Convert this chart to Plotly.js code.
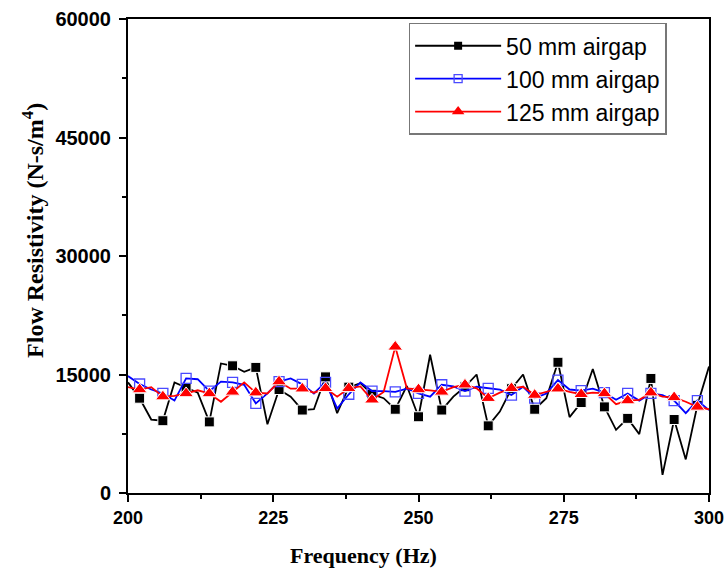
<!DOCTYPE html>
<html>
<head>
<meta charset="utf-8">
<script src="https://cdn.plot.ly/plotly-3.0.1.min.js"></script>
<style>html,body{margin:0;padding:0;background:#fff;}#chart{width:727px;height:576px;}</style>
</head>
<body>
<div id="chart"></div>
<script>
const freq = [200,202,204,206,208,210,212,214,216,218,220,222,224,226,228,230,232,234,236,238,240,242,244,246,248,250,252,254,256,258,260,262,264,266,268,270,272,274,276,278,280,282,284,286,288,290,292,294,296,298,300];
const gap50 = [14000,12000,9300,9150,14000,13300,12700,9000,16400,16100,15350,15900,8700,13100,12200,10500,10600,14700,10100,13400,13900,12500,12000,10600,13550,9650,17500,10500,12200,13450,15000,8500,10300,13200,15000,10600,12000,16550,9600,11450,15700,10900,8000,9450,7450,14500,2300,9300,4250,11100,16000];
const gap100 = [14800,13800,13100,12600,11700,14500,14400,12900,14100,14000,13700,11350,12600,14100,14500,13750,12600,14000,10700,12500,14000,12900,12900,12800,13200,12600,12200,13700,13500,12900,13450,13250,13100,12400,13450,12000,12600,14300,13100,12950,13200,12700,11800,12600,11700,12600,12400,11700,10100,11700,10500];
const gap125 = [13400,13100,13400,12200,12300,12600,13000,12600,11550,12800,14000,12700,12600,14100,13200,13200,12700,13250,12200,13250,13500,11800,12800,18500,13250,13100,13000,12800,13400,13700,13250,12000,12700,13250,13450,12400,12800,13200,12800,12500,12700,12600,11250,11700,11800,12700,12200,12100,11550,10900,10600];
const names = ['50 mm airgap','100 mm airgap','125 mm airgap'];
const xTicks = [200,225,250,275,300];
const yTicks = [0,15000,30000,45000,60000];
const xTitle = 'Frequency (Hz)';
const yTitle = 'Flow Resistivity (N-s/m<sup>4</sup>)';

function sizes(s){ return freq.map(f => ((f-202)%4===0) ? s : 0); }

const styles = [
  {line:{color:'#000000', width:1.8}, marker:{symbol:'square', color:'#000000', size:10}},
  {line:{color:'#0000ff', width:1.8}, marker:{symbol:'square-open', color:'#4a4aff', size:10, line:{width:1.3, color:'#4a4aff'}}},
  {line:{color:'#ff0000', width:1.8}, marker:{symbol:'triangle-up', color:'#ff0000', size:13}}
];
const series = [gap50, gap100, gap125];

const traces = [];
series.forEach((ys, i) => {
  const st = styles[i];
  traces.push({x:freq, y:ys, mode:'lines+markers', showlegend:false, hoverinfo:'skip',
    line:st.line,
    marker:Object.assign({}, st.marker, {size:sizes(st.marker.size), opacity:1})});
});
series.forEach((ys, i) => {
  const st = styles[i];
  traces.push({x:[null], y:[null], name:names[i], mode:'lines+markers', showlegend:true,
    line:st.line, marker:Object.assign({}, st.marker, {size:st.marker.size-2, opacity:1})});
});

const axisCommon = {showline:true, mirror:true, linecolor:'#000', linewidth:2, ticks:'outside', ticklen:7, tickwidth:2, tickcolor:'#000', showgrid:false, zeroline:false};

const layout = {
  width:727, height:576,
  margin:{l:128, r:18, t:19, b:83},
  paper_bgcolor:'#fff', plot_bgcolor:'#fff',
  showlegend:true,
  legend:{x:0.483, y:0.992, xanchor:'left', yanchor:'top', bordercolor:'#777', borderwidth:1.5, bgcolor:'#fff',
          font:{family:'Liberation Sans, Arial, sans-serif', size:23, color:'#000'}, itemwidth:86, tracegroupgap:0},
  xaxis:Object.assign({}, axisCommon, {range:[200,300], tickvals:xTicks, ticktext:xTicks.map(String),
    minor:{ticks:'outside', ticklen:4, tickwidth:2, tickcolor:'#000', dtick:12.5, tick0:200, showgrid:false},
    tickfont:{family:'Liberation Sans, Arial, sans-serif', size:18, color:'#000', weight:'bold'}}),
  yaxis:Object.assign({}, axisCommon, {range:[0,60000], tickvals:yTicks, ticktext:yTicks.map(String),
    ticklabelstandoff:4,
    minor:{ticks:'outside', ticklen:4, tickwidth:2, tickcolor:'#000', dtick:7500, tick0:0, showgrid:false},
    tickfont:{family:'Liberation Sans, Arial, sans-serif', size:20, color:'#000', weight:'bold'}}),
  annotations:[
    {text:'<b>'+xTitle+'</b>', xref:'paper', yref:'paper', x:0.406, y:-0.131, xanchor:'center', yanchor:'middle', showarrow:false,
     font:{family:'Liberation Serif, Times New Roman, serif', size:22, color:'#000'}},
    {text:'<b>'+yTitle+'</b>', xref:'paper', yref:'paper', x:-0.1635, y:0.553, xanchor:'center', yanchor:'middle', showarrow:false, textangle:-90,
     font:{family:'Liberation Serif, Times New Roman, serif', size:24, color:'#000'}}
  ]
};

Plotly.newPlot('chart', traces, layout, {displayModeBar:false, staticPlot:true});
</script>
</body>
</html>
